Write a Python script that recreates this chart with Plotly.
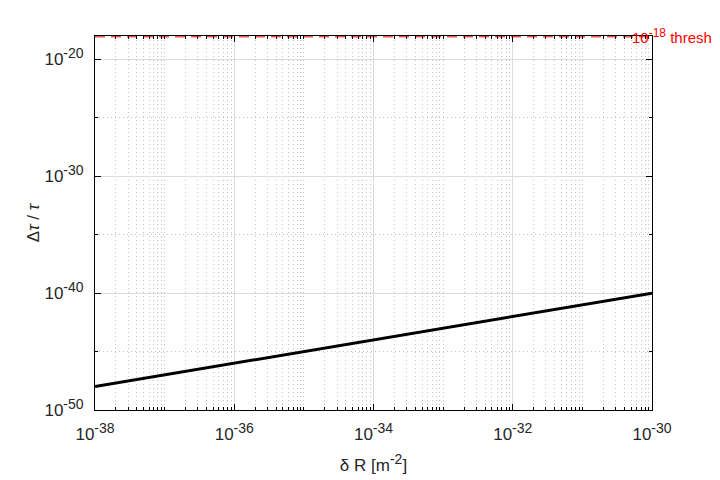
import plotly.graph_objects as go

# Data
delta_R = [1e-38, 1e-37, 1e-36, 1e-35, 1e-34, 1e-33, 1e-32, 1e-31, 1e-30]
dtau_over_tau = [1e-48, 1e-47, 1e-46, 1e-45, 1e-44, 1e-43, 1e-42, 1e-41, 1e-40]
thresh_x = [1e-38, 1e-30]
thresh_y = [1e-18, 1e-18]

x_major = [1e-38, 1e-36, 1e-34, 1e-32, 1e-30]
x_exps = ["-38", "-36", "-34", "-32", "-30"]
y_major = [1e-50, 1e-40, 1e-30, 1e-20]
y_exps = ["-50", "-40", "-30", "-20"]
y_minor = [1e-45, 1e-35, 1e-25]
x_minor = [m * 10.0 ** k for k in range(-38, -30) for m in range(1, 10)]
x_minor = [v for v in x_minor if not any(abs(v / t - 1) < 1e-6 for t in x_major)]


def pow_label(e):
    return "10<sup><span style='font-size:14px'>" + e + "</span></sup>"


font_family = "Liberation Sans, Arial, sans-serif"
txt = "#262626"

fig = go.Figure()
fig.add_trace(go.Scatter(x=delta_R, y=dtau_over_tau, mode="lines",
                         line=dict(color="black", width=3), showlegend=False))
fig.add_trace(go.Scatter(x=thresh_x, y=thresh_y, mode="lines",
                         line=dict(color="rgba(235,55,55,0.85)", width=3, dash="10px,6px"),
                         showlegend=False, cliponaxis=False))

fig.add_annotation(x=1, xref="paper", y=-18, yref="y", xanchor="left", xshift=-22,
                   text="10<sup><span style='font-size:12px'>-18</span></sup> thresh", showarrow=False,
                   font=dict(color="red", size=15, family=font_family))

axis_common = dict(showline=True, linecolor="black", linewidth=1, mirror="ticks",
                   ticks="inside", ticklen=6, tickcolor="black",
                   showgrid=True, gridcolor="#dcdcdc", gridwidth=1,
                   zeroline=False, automargin=False,
                   tickfont=dict(size=17, color=txt, family=font_family))

minor_common = dict(ticks="inside", ticklen=3, tickcolor="black",
                    showgrid=True, gridcolor="#c4c4c4", griddash="1px,3px", gridwidth=1)

fig.update_xaxes(type="log", range=[-38, -30], tickvals=x_major,
                 ticktext=[pow_label(e) for e in x_exps], ticklabelstandoff=9,
                 title=dict(text="δ R [m<sup><span style='font-size:14px'>-2</span></sup>]",
                            font=dict(size=17, color=txt, family=font_family), standoff=15),
                 minor=dict(tickvals=x_minor, **minor_common),
                 **axis_common)
fig.update_yaxes(type="log", range=[-50, -18], tickvals=y_major,
                 ticktext=[pow_label(e) for e in y_exps], ticklabelstandoff=7,
                 title=dict(text="Δ<i>τ</i> / <i>τ</i>", font=dict(size=17, color=txt, family=font_family), standoff=0),
                 minor=dict(tickvals=y_minor, **minor_common),
                 **axis_common)

# the page body adds an 8px offset, margins compensate so the plot area sits at x 95..652, y 36..410
fig.update_layout(width=720, height=480, plot_bgcolor="white", paper_bgcolor="white",
                  margin=dict(l=87, r=76, t=28, b=78),
                  font=dict(family=font_family, color=txt))
fig.write_html("out.html")
